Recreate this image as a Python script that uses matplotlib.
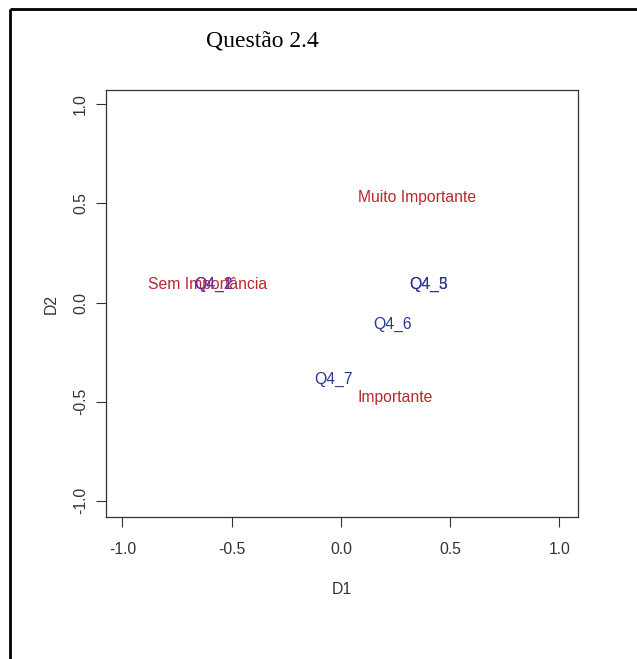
import matplotlib
matplotlib.use("Agg")
import matplotlib.pyplot as plt
from matplotlib.lines import Line2D

# Category labels (rows) and question labels (columns)
cat_labels = ["Sem Importância", "Muito Importante", "Importante"]
cat_x = [-0.61, 0.35, 0.25]
cat_y = [0.09, 0.53, -0.48]

q_labels = ["Q4_1", "Q4_2", "Q4_3", "Q4_5", "Q4_6", "Q4_7"]
q_x = [-0.585, -0.585, 0.40, 0.40, 0.236, -0.036]
q_y = [0.09, 0.09, 0.09, 0.09, -0.11, -0.386]
q_colors = ["#7B2A9B", "#6A2AA0", "#2A3590", "#2A3590", "#2A3590", "#2A3590"]

xticks = [-1.0, -0.5, 0.0, 0.5, 1.0]
yticks = [-1.0, -0.5, 0.0, 0.5, 1.0]

plt.rcParams['font.family'] = ['Liberation Sans', 'DejaVu Sans']

fig = plt.figure(figsize=(6.37, 6.59), dpi=100)
fig.patch.set_facecolor("white")

# outer table-cell border (top and left lines)
W, H = 637.0, 659.0
fig.add_artist(Line2D([10 / W, 1.0], [1 - 9 / H, 1 - 9 / H], transform=fig.transFigure,
                      color="black", lw=2.0, solid_capstyle="butt"))
fig.add_artist(Line2D([10 / W, 10 / W], [1 - 9 / H, 0.0], transform=fig.transFigure,
                      color="black", lw=2.0, solid_capstyle="butt"))

fig.text(262 / W, 1 - 41 / H, "Questão 2.4", ha="center", va="center",
         fontsize=17, family=["Liberation Serif", "DejaVu Serif"], color="black")

ax = fig.add_axes([106 / W, 1 - 517 / H, (578 - 106) / W, (517 - 90) / H])
ax.set_xlim(-1.075, 1.085)
ax.set_ylim(-1.083, 1.073)

for s in ax.spines.values():
    s.set_linewidth(0.9)
    s.set_color("#333333")

fs = 11.3
ax.set_xticks(xticks)
ax.set_yticks(yticks)
ax.set_xticklabels([f"{v:.1f}" for v in xticks], fontsize=fs, color="#333333")
ax.set_yticklabels([f"{v:.1f}" for v in yticks], fontsize=fs, color="#333333",
                   rotation=90, va="center")
ax.tick_params(axis="x", length=7, width=0.8, color="#333333", pad=11)
ax.tick_params(axis="y", length=7, width=0.8, color="#333333", pad=6)

ax.set_xlabel("D1", fontsize=fs, color="#333333", labelpad=18)
ax.set_ylabel("D2", fontsize=fs, color="#333333", labelpad=10)

for lab, x, y in zip(cat_labels, cat_x, cat_y):
    ax.text(x, y, lab, ha="center", va="center", fontsize=fs, color="#B8282E")

for lab, x, y, c in zip(q_labels, q_x, q_y, q_colors):
    ax.text(x, y, lab, ha="center", va="center", fontsize=fs, color=c)

fig.savefig("out.png", dpi=100, facecolor="white")
